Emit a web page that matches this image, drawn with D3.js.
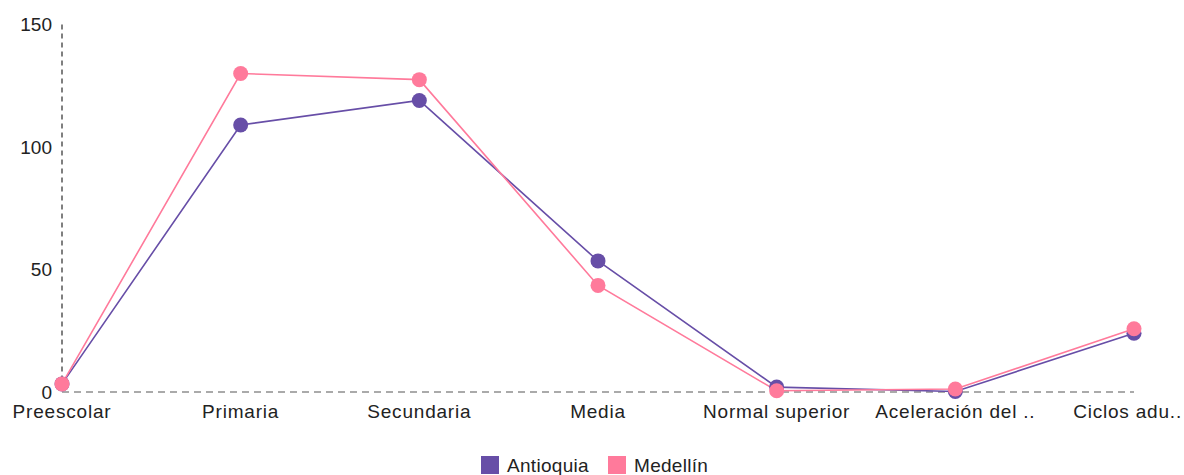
<!DOCTYPE html>
<html><head><meta charset="utf-8">
<script src="https://cdn.jsdelivr.net/npm/d3@7/dist/d3.min.js"></script>
<style>body{margin:0;background:#fff;}svg{display:block;font-family:"Liberation Sans",Arial,sans-serif;}</style>
</head><body><svg id="c" width="1184" height="475"></svg>
<script>
const categories = ["Preescolar","Primaria","Secundaria","Media","Normal superior","Aceleración del ..","Ciclos adu.."];
const antioquia = [3.3, 109, 119, 53.5, 2, 0.2, 24];
const medellin  = [3.3, 130, 127.5, 43.5, 0.5, 1.2, 25.8];
const yTicks = [0, 50, 100, 150];
const seriesNames = ["Antioquia","Medellín"];
const colors = ["#674ea7","#ff7a9b"];

const svg = d3.select("#c");
const x = d3.scalePoint().domain(categories).range([62, 1134]);
const y = d3.scaleLinear().domain([0,150]).range([392, 24.5]);
const W = 1184;

svg.append("line").attr("x1",62).attr("x2",62).attr("y1",y(150)).attr("y2",y(0))
  .attr("stroke","#555").attr("stroke-width",1.5).attr("stroke-dasharray","5,4");
svg.append("line").attr("x1",62).attr("x2",1134).attr("y1",y(0)).attr("y2",y(0))
  .attr("stroke","#aaa").attr("stroke-width",2).attr("stroke-dasharray","7,5");

svg.selectAll(".yt").data(yTicks).join("text").attr("class","yt")
  .attr("x",52).attr("y",d=>y(d)).attr("dy","0.35em").attr("text-anchor","end")
  .attr("font-size",19).attr("fill","#222").text(d=>d);

svg.selectAll(".xt").data(categories).join("text").attr("class","xt")
  .attr("y",418).attr("text-anchor","middle")
  .attr("font-size",19).attr("fill","#222").attr("letter-spacing",0.8).text(d=>d)
  .attr("x",d=>x(d))
  .each(function(d){
    const bb = this.getBBox();
    if (bb.x + bb.width > W - 2) d3.select(this).attr("x", x(d) - (bb.x + bb.width - (W - 2)));
  });

const series = [antioquia, medellin];
const line = d3.line().x((d,i)=>x(categories[i])).y(d=>y(d));
series.forEach((s,k)=>{
  svg.append("path").datum(s).attr("d",line).attr("fill","none")
    .attr("stroke",colors[k]).attr("stroke-width",1.6);
});
series.forEach((s,k)=>{
  svg.selectAll(".p"+k).data(s).join("circle").attr("class","p"+k)
    .attr("cx",(d,i)=>x(categories[i])).attr("cy",d=>y(d)).attr("r",7.5).attr("fill",colors[k]);
});

const lg = [{n:seriesNames[0],c:colors[0],x:481},{n:seriesNames[1],c:colors[1],x:608}];
lg.forEach(l=>{
  svg.append("rect").attr("x",l.x).attr("y",456).attr("width",18).attr("height",18).attr("fill",l.c);
  svg.append("text").attr("x",l.x+26).attr("y",472).attr("font-size",19).attr("fill","#222")
    .attr("letter-spacing",0.3).text(l.n);
});
</script></body></html>
